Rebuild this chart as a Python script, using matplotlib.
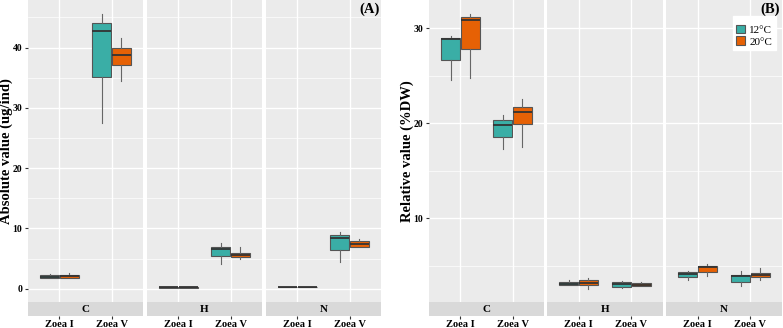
import matplotlib.pyplot as plt
from matplotlib.patches import Patch

elements = ["C", "H", "N"]
stages = ["Zoea I", "Zoea V"]
temps = ["12°C", "20°C"]

# order: element -> stage -> temp (12, 20)
abs_lo  = [1.8, 1.7, 27.5, 34.5,  0.2, 0.2, 4.15, 4.9,  0.25, 0.25, 4.4, 6.9]
abs_q1  = [1.8, 1.8, 35.1, 37.1,  0.2, 0.2, 5.4, 5.26,  0.25, 0.25, 6.36, 7.0]
abs_med = [2.0, 2.05, 42.7, 38.8, 0.25, 0.25, 6.6, 5.6, 0.3, 0.3, 8.35, 7.47]
abs_q3  = [2.2, 2.25, 44.1, 39.95, 0.3, 0.3, 7.0, 5.9, 0.35, 0.35, 8.85, 7.9]
abs_hi  = [2.5, 2.6, 45.5, 41.6,  0.3, 0.3, 7.6, 6.9,  0.35, 0.35, 9.4, 8.3]

rel_lo  = [24.6, 24.8, 17.35, 17.5, 2.96, 2.6, 2.7, 2.85, 3.56, 3.95, 2.9, 3.56]
rel_q1  = [26.7, 27.8, 18.55, 19.98, 2.96, 3.04, 2.78, 2.9, 3.84, 4.37, 3.31, 3.78]
rel_med = [28.85, 30.9, 19.87, 21.2, 3.07, 3.25, 3.1, 3.04, 4.2, 4.9, 3.91, 4.09]
rel_q3  = [29.0, 31.2, 20.37, 21.7, 3.31, 3.56, 3.31, 3.17, 4.34, 5.04, 4.09, 4.3]
rel_hi  = [29.2, 31.5, 20.9, 22.6, 3.5, 3.7, 3.45, 3.3, 4.5, 5.25, 4.44, 4.73]

colors = ["#3aaea6", "#e66105"]
W, H = 783, 328
serif = "Liberation Serif"

fig = plt.figure(figsize=(7.83, 3.28), dpi=100)


def panel(xs, lo, q1, med, q3, hi, ylim, yticks, ylabel, tag, legend):
    for i, el in enumerate(elements):
        x0, x1 = xs[i]
        ax = fig.add_axes([x0 / W, (H - 302) / H, (x1 - x0) / W, 302 / H])
        ax.set_facecolor("#ebebeb")
        for s in ax.spines.values():
            s.set_visible(False)
        ax.set_xlim(0.4, 2.6)
        ax.set_yticks(yticks)
        ax.set_yticks([t + 5 for t in yticks] + [yticks[0] - 5], minor=True)
        ax.set_ylim(*ylim)
        ax.set_xticks([1, 2])
        ax.grid(True, which="major", color="white", lw=1.0)
        ax.grid(True, which="minor", axis="y", color="white", lw=0.5)
        ax.set_axisbelow(True)
        ax.tick_params(axis="x", length=0, labelbottom=False)
        ax.tick_params(axis="y", which="minor", length=0)
        if i == 0:
            ax.tick_params(axis="y", length=2.5, color="#333333", pad=1.5)
            for t in ax.get_yticklabels():
                t.set_fontfamily(serif)
                t.set_fontweight("bold")
                t.set_fontsize(7)
            ax.set_ylabel(ylabel, fontfamily=serif, fontweight="bold", fontsize=10.5)
            ax.yaxis.set_label_coords(-0.13, 0.5)
        else:
            ax.tick_params(axis="y", length=0, labelleft=False)
        for j in range(2):
            for k in range(2):
                n = i * 4 + j * 2 + k
                pos = j + 1 + (-0.187 if k == 0 else 0.187)
                st = dict(whislo=lo[n], q1=q1[n], med=med[n], q3=q3[n], whishi=hi[n], fliers=[])
                ax.bxp([st], positions=[pos], widths=0.36, showcaps=False, patch_artist=True,
                       boxprops=dict(facecolor=colors[k], edgecolor="#555555", lw=0.8),
                       medianprops=dict(color="#333333", lw=1.3),
                       whiskerprops=dict(color="#666666", lw=0.8),
                       manage_ticks=False)
        if i == 2:
            ax.text(0.985, 0.993, tag, transform=ax.transAxes, ha="right", va="top",
                    fontfamily=serif, fontweight="bold", fontsize=10.5, zorder=10)
            if legend:
                hs = [Patch(facecolor=c, edgecolor="#555555", lw=0.8) for c in colors]
                lg = ax.legend(hs, temps, loc="upper right", bbox_to_anchor=(0.945, 0.948),
                               prop={"family": serif, "size": 8}, frameon=True,
                               title=" ", title_fontproperties={"size": 3},
                               fancybox=False, handlelength=0.8, handleheight=0.8,
                               handletextpad=0.4, borderpad=0.3, labelspacing=0.15,
                               borderaxespad=0)
                lg.get_frame().set_edgecolor("white")
                lg.get_frame().set_facecolor("white")
                lg.get_frame().set_alpha(1)
                lg.set_zorder(5)
        sx = fig.add_axes([x0 / W, (H - 316) / H, (x1 - x0) / W, 14 / H])
        sx.set_facecolor("#d9d9d9")
        for s in sx.spines.values():
            s.set_visible(False)
        sx.set_xlim(0.4, 2.6)
        sx.set_ylim(0, 1)
        sx.set_yticks([])
        sx.set_xticks([1, 2])
        sx.set_xticklabels(stages, fontfamily=serif, fontweight="bold", fontsize=7.5)
        sx.tick_params(axis="x", length=2, color="#333333", pad=1)
        sx.text(1.5, 0.5, el, ha="center", va="center", fontfamily=serif,
                fontweight="bold", fontsize=8)


panel([(28, 143), (147, 262), (266, 381)], abs_lo, abs_q1, abs_med, abs_q3, abs_hi,
      (-2.2, 47.9), [0, 10, 20, 30, 40], "Absolute value (ug/ind)", "(A)", False)
panel([(429, 544), (547, 663), (666, 782)], rel_lo, rel_q1, rel_med, rel_q3, rel_hi,
      (1.2, 33.0), [10, 20, 30], "Relative value (%DW)", "(B)", True)

fig.savefig("out.png", dpi=100)
